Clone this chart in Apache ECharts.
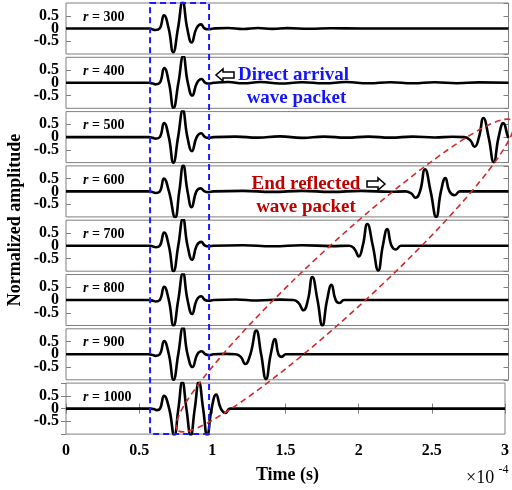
<!DOCTYPE html>
<html><head><meta charset="utf-8">
<script src="https://cdn.jsdelivr.net/npm/echarts@6/dist/echarts.min.js"></script>
<style>html,body{margin:0;padding:0;background:#fff}#c{width:512px;height:490px}</style>
</head><body><div id="c"></div>
<script>
// ---- data (time in units of 1e-4 s, normalized amplitude) ----
const radii = [300, 400, 500, 600, 700, 800, 900, 1000];
const xTickValues = [0, 0.5, 1, 1.5, 2, 2.5, 3];
const yTickValues = [-0.5, 0, 0.5];

const time300 = [0, 0.5, 0.56, 0.585, 0.605, 0.635, 0.664, 0.696, 0.727, 0.759, 0.791, 0.822, 0.852, 0.884, 0.915, 0.94, 0.965, 1.0, 1.1, 1.2, 1.3, 1.4, 1.5, 1.65, 1.8, 2.0, 3.0];
const amp300  = [0, 0, 0, -0.03, -0.06, 0, 0.52, 0, -0.93, 0, 1.05, 0, -0.55, 0, 0.16, 0, -0.03, 0, 0.02, -0.02, 0.02, -0.015, 0.015, -0.01, 0.01, 0, 0];

const time400 = [0, 0.5, 0.56, 0.59, 0.607, 0.636, 0.666, 0.698, 0.729, 0.762, 0.795, 0.826, 0.856, 0.888, 0.918, 0.945, 0.97, 1.0, 1.1, 1.2, 1.32, 1.45, 1.6, 1.75, 1.9, 2.05, 2.2, 2.35, 2.5, 2.65, 2.8, 3.0];
const amp400  = [0, 0, 0, -0.03, -0.06, 0, 0.58, 0, -0.98, 0, 1.05, 0, -0.5, 0, 0.15, 0, -0.03, 0, 0.03, -0.02, 0.03, -0.03, 0.02, -0.02, 0.03, -0.02, 0.02, -0.02, 0.02, -0.015, 0.015, 0];

const time500 = [0, 0.5, 0.56, 0.59, 0.607, 0.636, 0.665, 0.697, 0.728, 0.76, 0.792, 0.823, 0.854, 0.886, 0.916, 0.943, 0.968, 1.0, 1.15, 1.3, 1.45, 1.6, 1.75, 1.9, 2.05, 2.2, 2.35, 2.5, 2.62, 2.7, 2.74, 2.77, 2.8, 2.83, 2.865, 2.9, 2.933, 2.965, 2.995, 3.0];
const amp500  = [0, 0, 0, -0.03, -0.06, 0, 0.55, 0, -1.0, 0, 1.05, 0, -0.55, 0, 0.15, 0, -0.03, 0, 0.02, -0.02, 0.03, -0.03, 0.02, -0.02, 0.02, -0.02, 0.02, -0.015, 0.015, 0, -0.12, -0.38, 0, 0.75, 0, -0.98, 0, 0.55, 0.03, -0.03];

const time600 = [0, 0.5, 0.56, 0.59, 0.607, 0.636, 0.664, 0.698, 0.74, 0.768, 0.795, 0.824, 0.852, 0.884, 0.913, 0.94, 0.965, 1.0, 1.2, 1.4, 1.6, 1.8, 2.0, 2.2, 2.3, 2.34, 2.37, 2.4, 2.434, 2.472, 2.51, 2.542, 2.572, 2.6, 2.635, 2.67, 2.72, 3.0];
const amp600  = [0, 0, 0, -0.03, -0.06, 0, 0.5, 0, -1.02, 0, 1.02, 0, -0.62, 0, 0.12, 0, -0.03, 0, 0.02, -0.02, 0.02, -0.02, 0.02, -0.015, 0, -0.08, -0.25, 0, 0.87, 0, -1.0, 0, 0.52, 0, -0.15, 0, 0, 0];

const time700 = [0, 0.5, 0.56, 0.59, 0.607, 0.636, 0.665, 0.697, 0.729, 0.761, 0.793, 0.824, 0.855, 0.886, 0.916, 0.943, 0.968, 1.0, 1.2, 1.4, 1.6, 1.8, 1.92, 1.955, 1.985, 2.012, 2.043, 2.08, 2.117, 2.148, 2.178, 2.207, 2.238, 2.27, 2.32, 3.0];
const amp700  = [0, 0, 0, -0.03, -0.06, 0, 0.52, 0, -1.0, 0, 1.05, 0, -0.55, 0, 0.15, 0, -0.03, 0, 0.02, -0.02, 0.02, -0.015, 0, -0.12, -0.42, 0, 0.85, 0, -0.97, 0, 0.65, 0, -0.15, 0, 0, 0];

const time800 = [0, 0.5, 0.56, 0.59, 0.607, 0.636, 0.665, 0.697, 0.729, 0.761, 0.793, 0.824, 0.855, 0.886, 0.916, 0.943, 0.968, 1.0, 1.15, 1.3, 1.45, 1.54, 1.575, 1.61, 1.64, 1.67, 1.705, 1.738, 1.77, 1.8, 1.828, 1.855, 1.885, 1.93, 3.0];
const amp800  = [0, 0, 0, -0.03, -0.06, 0, 0.52, 0, -1.0, 0, 1.05, 0, -0.55, 0, 0.15, 0, -0.03, 0, 0.02, -0.02, 0.015, 0, -0.1, -0.4, 0, 0.9, 0, -1.0, 0, 0.6, 0, -0.12, 0, 0, 0];

const time900 = [0, 0.5, 0.56, 0.59, 0.607, 0.636, 0.665, 0.697, 0.729, 0.761, 0.793, 0.824, 0.858, 0.89, 0.92, 0.945, 0.97, 1.0, 1.08, 1.15, 1.185, 1.215, 1.25, 1.29, 1.323, 1.356, 1.388, 1.417, 1.44, 1.462, 1.49, 1.54, 3.0];
const amp900  = [0, 0, 0, -0.03, -0.06, 0, 0.52, 0, -1.0, 0, 1.05, 0, -0.5, 0, 0.12, 0, -0.03, 0, 0.015, 0, -0.1, -0.38, 0, 0.93, 0, -0.97, 0, 0.6, 0, -0.1, 0, 0, 0];

const time1000 = [0, 0.5, 0.58, 0.6, 0.62, 0.643, 0.67, 0.705, 0.74, 0.768, 0.795, 0.823, 0.852, 0.88, 0.908, 0.937, 0.965, 0.995, 1.026, 1.058, 1.09, 1.12, 1.16, 3.0];
const amp1000  = [0, 0, 0, -0.02, -0.06, 0, 0.5, 0, -1.05, 0, 1.05, 0, -1.05, 0, 1.05, 0, -1.05, 0, 0.55, 0, -0.17, 0, 0, 0];

const times = [time300, time400, time500, time600, time700, time800, time900, time1000];
const amps  = [amp300, amp400, amp500, amp600, amp700, amp800, amp900, amp1000];

// annotation anchors (data units)
const directBox = [0.57, 0.97];

// ---- layout ----
const LEFT = 66, W = 442.5, TOP0 = 3, PITCH = 54.3, H = 51;
const FONT = '"Liberation Serif", "Times New Roman", serif';
const FRAME = '#7f7f7f';

const chart = echarts.init(document.getElementById('c'), null, {renderer: 'canvas'});
const grids = [], xAxes = [], yAxes = [], series = [];
radii.forEach((r, i) => {
  const top = TOP0 + i * PITCH;
  grids.push({left: LEFT, top: top, width: W, height: H, show: true, borderColor: FRAME, borderWidth: 1, backgroundColor: 'transparent'});
  const last = i === radii.length - 1;
  xAxes.push({
    gridIndex: i, type: 'value', min: 0, max: 3, interval: 0.5,
    axisLine: {show: false}, splitLine: {show: false},
    axisTick: {show: last, inside: true, length: 5, lineStyle: {color: FRAME}},
    axisLabel: {show: last, margin: 9, color: '#000', fontFamily: FONT, fontWeight: 'bold', fontSize: 16,
      showMinLabel: true, showMaxLabel: true}
  });
  const yCommon = {
    gridIndex: i, type: 'value', min: -1, max: 1, interval: 0.5,
    axisLine: {show: false}, splitLine: {show: false},
    axisTick: {show: true, inside: true, length: 5, lineStyle: {color: FRAME}}
  };
  yAxes.push(Object.assign({}, yCommon, {position: 'left',
    axisLabel: {show: true, showMinLabel: false, showMaxLabel: false, margin: 7, color: '#000', fontFamily: FONT, fontWeight: 'bold', fontSize: 16}}));
  yAxes.push(Object.assign({}, yCommon, {position: 'right', axisLabel: {show: false}}));
  series.push({
    type: 'line', xAxisIndex: i, yAxisIndex: 2 * i,
    data: times[i].map((t, k) => [t, amps[i][k]]),
    showSymbol: false, smooth: 0.5, clip: true, silent: true,
    lineStyle: {color: '#000', width: 2.6}, z: 3
  });
});
// top ticks of the last panel
xAxes.push({gridIndex: radii.length - 1, type: 'value', min: 0, max: 3, interval: 0.5, position: 'top',
  axisLine: {show: false}, splitLine: {show: false}, axisLabel: {show: false},
  axisTick: {show: true, inside: true, length: 5, lineStyle: {color: FRAME}}});

const px = t => LEFT + t / 3 * W;
const graphic = [];
radii.forEach((r, i) => {
  graphic.push({type: 'text', x: 83, y: TOP0 + i * PITCH + 14, z: 50,
    style: {text: '{i|r} = ' + r, fill: '#000', font: 'bold 14px ' + FONT, verticalAlign: 'middle',
      rich: {i: {fontStyle: 'italic', fontWeight: 'bold', fontSize: 14, fontFamily: FONT, fill: '#000'}}}});
});
// blue dashed box
const boxTop = TOP0, boxBot = TOP0 + 7 * PITCH + H;
graphic.push({type: 'rect', z: 60, shape: {x: px(directBox[0]), y: boxTop, width: px(directBox[1]) - px(directBox[0]), height: boxBot - boxTop},
  style: {fill: 'none', stroke: '#1a1aff', lineWidth: 2, lineDash: [6, 4]}});
// red dashed ellipse
graphic.push({type: 'ellipse', z: 60, x: 345, y: 275.5, rotation: 42.7 * Math.PI / 180,
  shape: {cx: 0, cy: 0, rx: 228, ry: 32},
  style: {fill: 'none', stroke: '#d42a2a', lineWidth: 1.6, lineDash: [6, 4]}});
// direct arrival annotation
graphic.push({type: 'polygon', z: 60, shape: {points: [[234, 72], [223, 72], [223, 69], [216, 75], [223, 81], [223, 78], [234, 78]]},
  style: {fill: '#fff', stroke: '#000', lineWidth: 1.5}});
graphic.push({type: 'text', z: 60, x: 238, y: 75, style: {text: 'Direct arrival', fill: '#1414ff', font: 'bold 19px ' + FONT, verticalAlign: 'middle'}});
graphic.push({type: 'text', z: 60, x: 296.5, y: 98.5, style: {text: 'wave packet', fill: '#1414ff', font: 'bold 19px ' + FONT, align: 'center', verticalAlign: 'middle'}});
// end reflected annotation
graphic.push({type: 'text', z: 60, x: 251.5, y: 184, style: {text: 'End reflected', fill: '#c00000', font: 'bold 19px ' + FONT, verticalAlign: 'middle'}});
graphic.push({type: 'text', z: 60, x: 306, y: 207, style: {text: 'wave packet', fill: '#c00000', font: 'bold 19px ' + FONT, align: 'center', verticalAlign: 'middle'}});
graphic.push({type: 'polygon', z: 60, shape: {points: [[367, 181], [378, 181], [378, 178], [385, 184], [378, 190], [378, 187], [367, 187]]},
  style: {fill: '#fff', stroke: '#000', lineWidth: 1.5}});
// axis titles
graphic.push({type: 'text', z: 60, x: 287.5, y: 475, style: {text: 'Time (s)', fill: '#000', font: 'bold 18px ' + FONT, align: 'center', verticalAlign: 'middle'}});
graphic.push({type: 'text', z: 60, x: 15, y: 220, rotation: Math.PI / 2,
  style: {text: 'Normalized amplitude', fill: '#000', font: 'bold 18px ' + FONT, align: 'center', verticalAlign: 'middle'}});
graphic.push({type: 'text', z: 60, x: 466, y: 478, style: {text: '×10', fill: '#000', font: '18px ' + FONT, verticalAlign: 'middle'}});
graphic.push({type: 'text', z: 60, x: 498.5, y: 470, style: {text: '-4', fill: '#000', font: '12px ' + FONT, verticalAlign: 'middle'}});

chart.setOption({
  animation: false,
  backgroundColor: '#fff',
  grid: grids, xAxis: xAxes, yAxis: yAxes, series: series,
  graphic: {elements: graphic}
});
</script></body></html>
